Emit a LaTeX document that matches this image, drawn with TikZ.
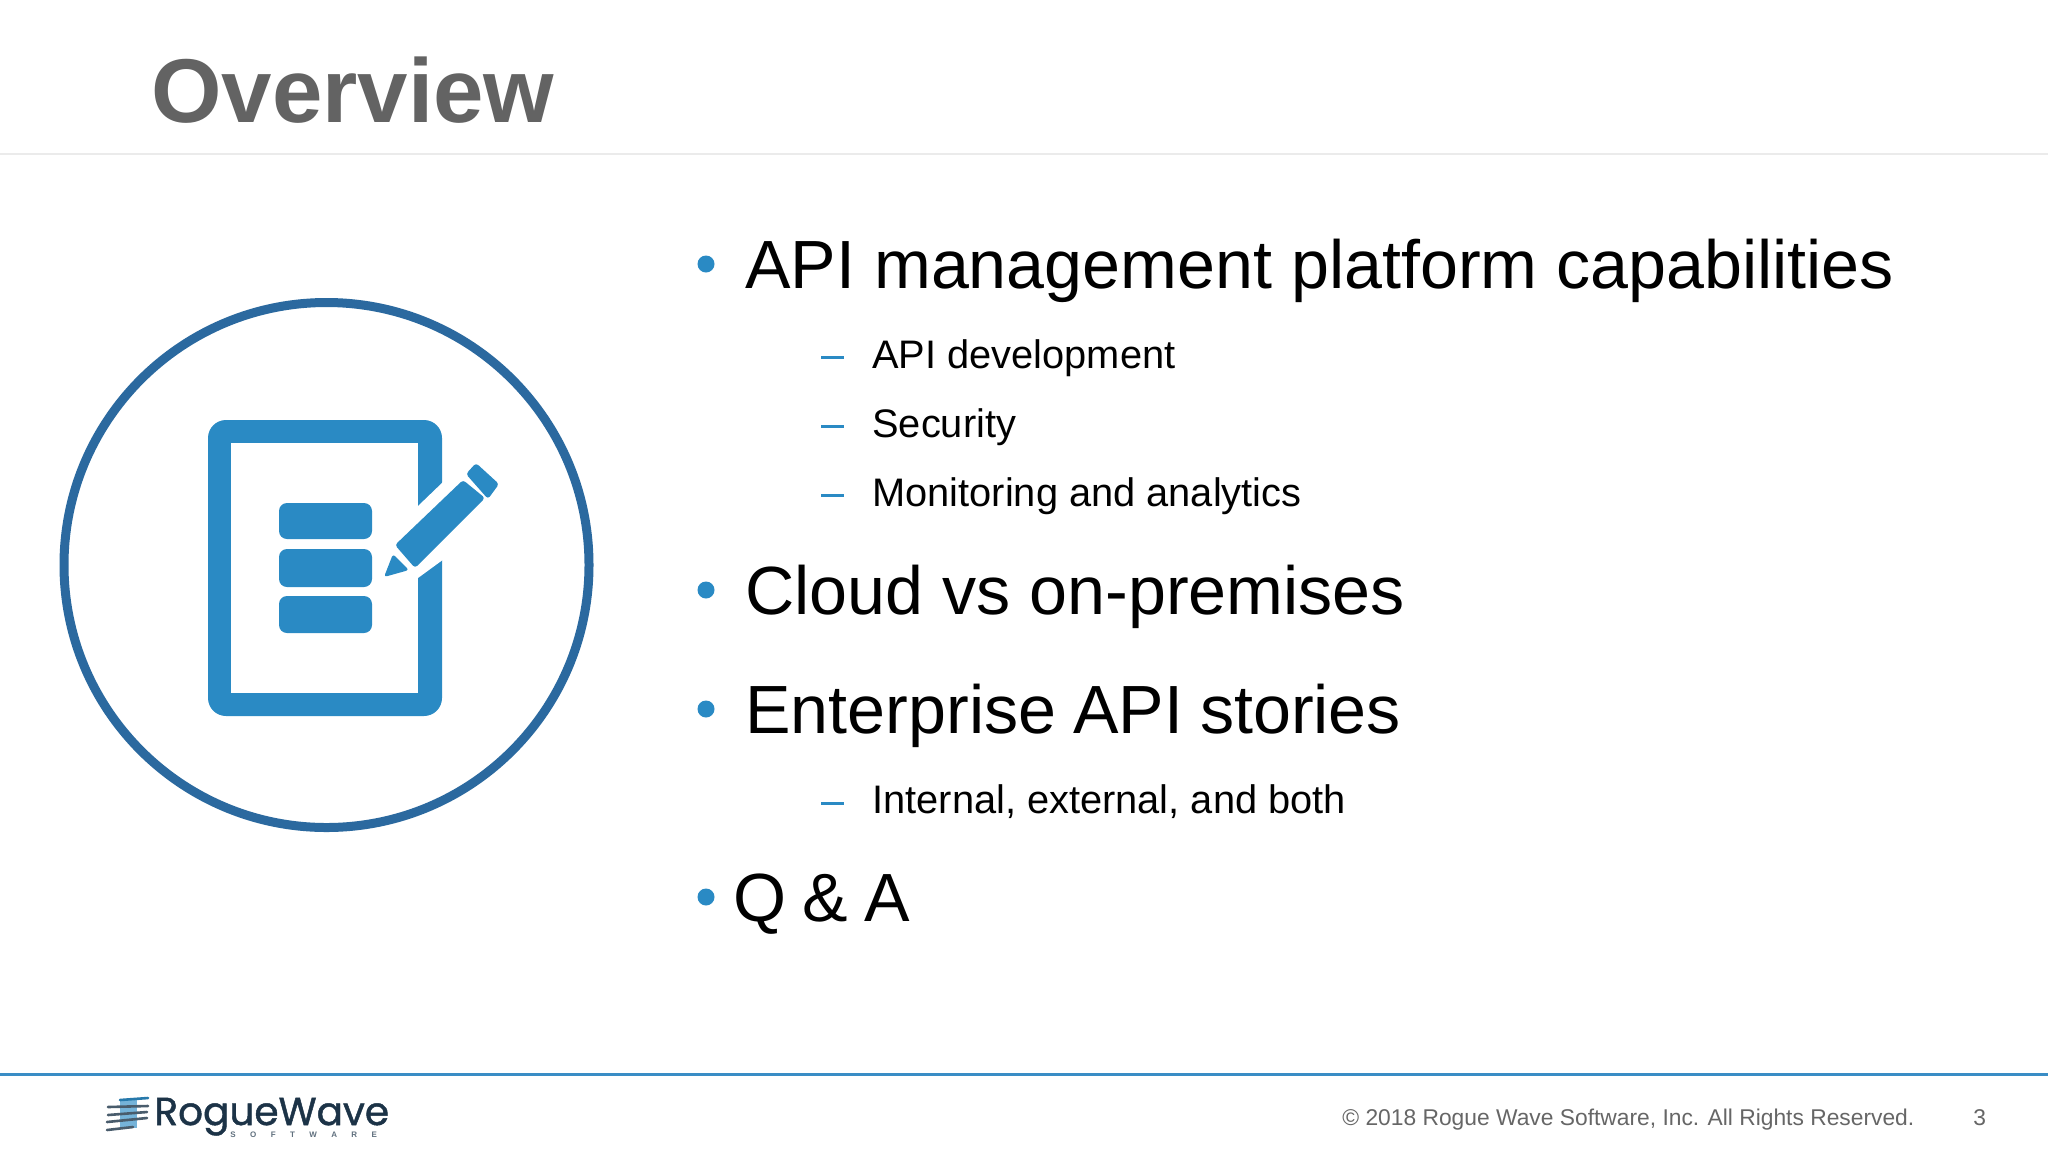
\documentclass[tikz,border=0pt]{standalone}
\usepackage{fontspec}
\setmainfont{Liberation Sans}
\newfontfamily\logofont[FakeBold=1.2]{Poppins}
\definecolor{iconblue}{HTML}{2A8AC4}
\definecolor{ringblue}{HTML}{2B699F}
\definecolor{ruleblue}{HTML}{3A8DC5}
\definecolor{titlegray}{HTML}{636363}
\definecolor{footgray}{HTML}{666666}
\definecolor{navy}{HTML}{1C3347}
\tikzset{
  big/.style={anchor=base west,inner sep=0pt,font=\fontsize{34.1}{36}\selectfont,text=black},
  small/.style={anchor=base west,inner sep=0pt,font=\fontsize{19.9}{22}\selectfont,text=black},
  foot/.style={anchor=base west,inner sep=0pt,font=\fontsize{11.4}{12}\selectfont,text=footgray},
  dotb/.style={fill=iconblue,draw=none},
  dashb/.style={draw=iconblue,line width=1.5pt},
  stackbar/.style={fill=iconblue,draw=none,rounded corners=4pt},
  pen/.style={fill=iconblue,draw=none,rounded corners=1.5pt},
  wave/.style={draw=#1,line width=1.3pt,line cap=round}
}
\newcommand{\gp}{\hspace{7.2pt}}
\begin{document}
\begin{tikzpicture}[x=0.5pt,y=-0.5pt]
\path[use as bounding box,fill=white] (0,0) rectangle (2048,1152);
% header
\node[anchor=base west,inner sep=0pt,font=\fontsize{45.3}{46}\selectfont\bfseries,text=titlegray] (title) at (151,122) {Overview};
\coordinate (hl) at (0,154); \coordinate (hr) at (2048,154);
\draw[draw=black!8,line width=0.75pt] (hl) -- (hr);
% ring
\draw[draw=ringblue,line width=4.5pt] (326.5,565) circle (262.5);
% document
\fill[iconblue,rounded corners=9pt] (208,420) -- (442,420) -- (442,716) -- (208,716) -- cycle;
\fill[white] (231,443) rectangle (418,693);
\fill[white] (418,506) -- (444,481) -- (444,559) -- (418,578) -- cycle;
\fill[stackbar] (279,503) rectangle (372,539);
\fill[stackbar] (279,549) rectangle (372,587);
\fill[stackbar] (279,596) rectangle (372,633);
% pencil
\fill[pen] (395,545) -- (463,480) -- (485,498) -- (415,568) -- cycle;
\fill[pen] (466,474) -- (476,463) -- (499,484) -- (488,499) -- cycle;
\fill[pen] (384,577) -- (393,554) -- (409,570) -- cycle;
% bullets
\fill[dotb] (706,264) circle (8.5);
\fill[dotb] (706,590) circle (8.5);
\fill[dotb] (706,709) circle (8.5);
\fill[dotb] (706,897) circle (8.5);
\node[big] (b1) at (745,288) {API management platform capabilities};
\node[big] (b2) at (745,614) {Cloud vs on-premises};
\node[big] (b3) at (745,733.5) {Enterprise\hspace{-1pt} API\hspace{-1pt} stories};
\node[big] (b4) at (733,921) {Q\hspace{-1.3pt} \&\hspace{-1.3pt} A};
% dashes
\draw[dashb] (821,357) -- (844,357);
\draw[dashb] (821,426) -- (844,426);
\draw[dashb] (821,495) -- (844,495);
\draw[dashb] (821,803) -- (844,803);
\node[small] (s1) at (872,368) {API development};
\node[small] (s2) at (872,437) {Security};
\node[small] (s3) at (872,506) {Monitoring and analytics};
\node[small] (s4) at (872,813) {Internal, external, and both};
% footer
\coordinate (fl) at (0,1074.5); \coordinate (fr) at (2048,1074.5);
\draw[draw=ruleblue,line width=1.3pt] (fl) -- (fr);
\node[foot] (copy) at (1342,1125.5) {© 2018 Rogue Wave Software, Inc. All Rights Reserved.};
\node[foot] (page) at (1973,1125.5) {3};
% logo
\fill[iconblue!65] (120,1100) rectangle (137,1128);
\draw[wave=iconblue!80!navy] (120,1100) -- (148,1098);
\draw[wave=navy!80] (108,1107) -- (148,1106);
\draw[wave=navy!80] (108,1115) -- (147,1112);
\draw[wave=navy!80] (107,1122) -- (147,1118);
\draw[wave=navy!80] (107,1130) -- (133,1127);
\node[anchor=base west,inner sep=0pt,font=\logofont\fontsize{19.5}{20}\selectfont,text=navy] (logo) at (154,1125) {RogueWave};
\node[anchor=base west,inner sep=0pt,font=\bfseries\fontsize{4}{5}\selectfont,text=navy!70] (logosub) at (230,1137) {S\gp O\gp F\gp T\gp W\gp A\gp R\gp E};
\end{tikzpicture}
\end{document}
